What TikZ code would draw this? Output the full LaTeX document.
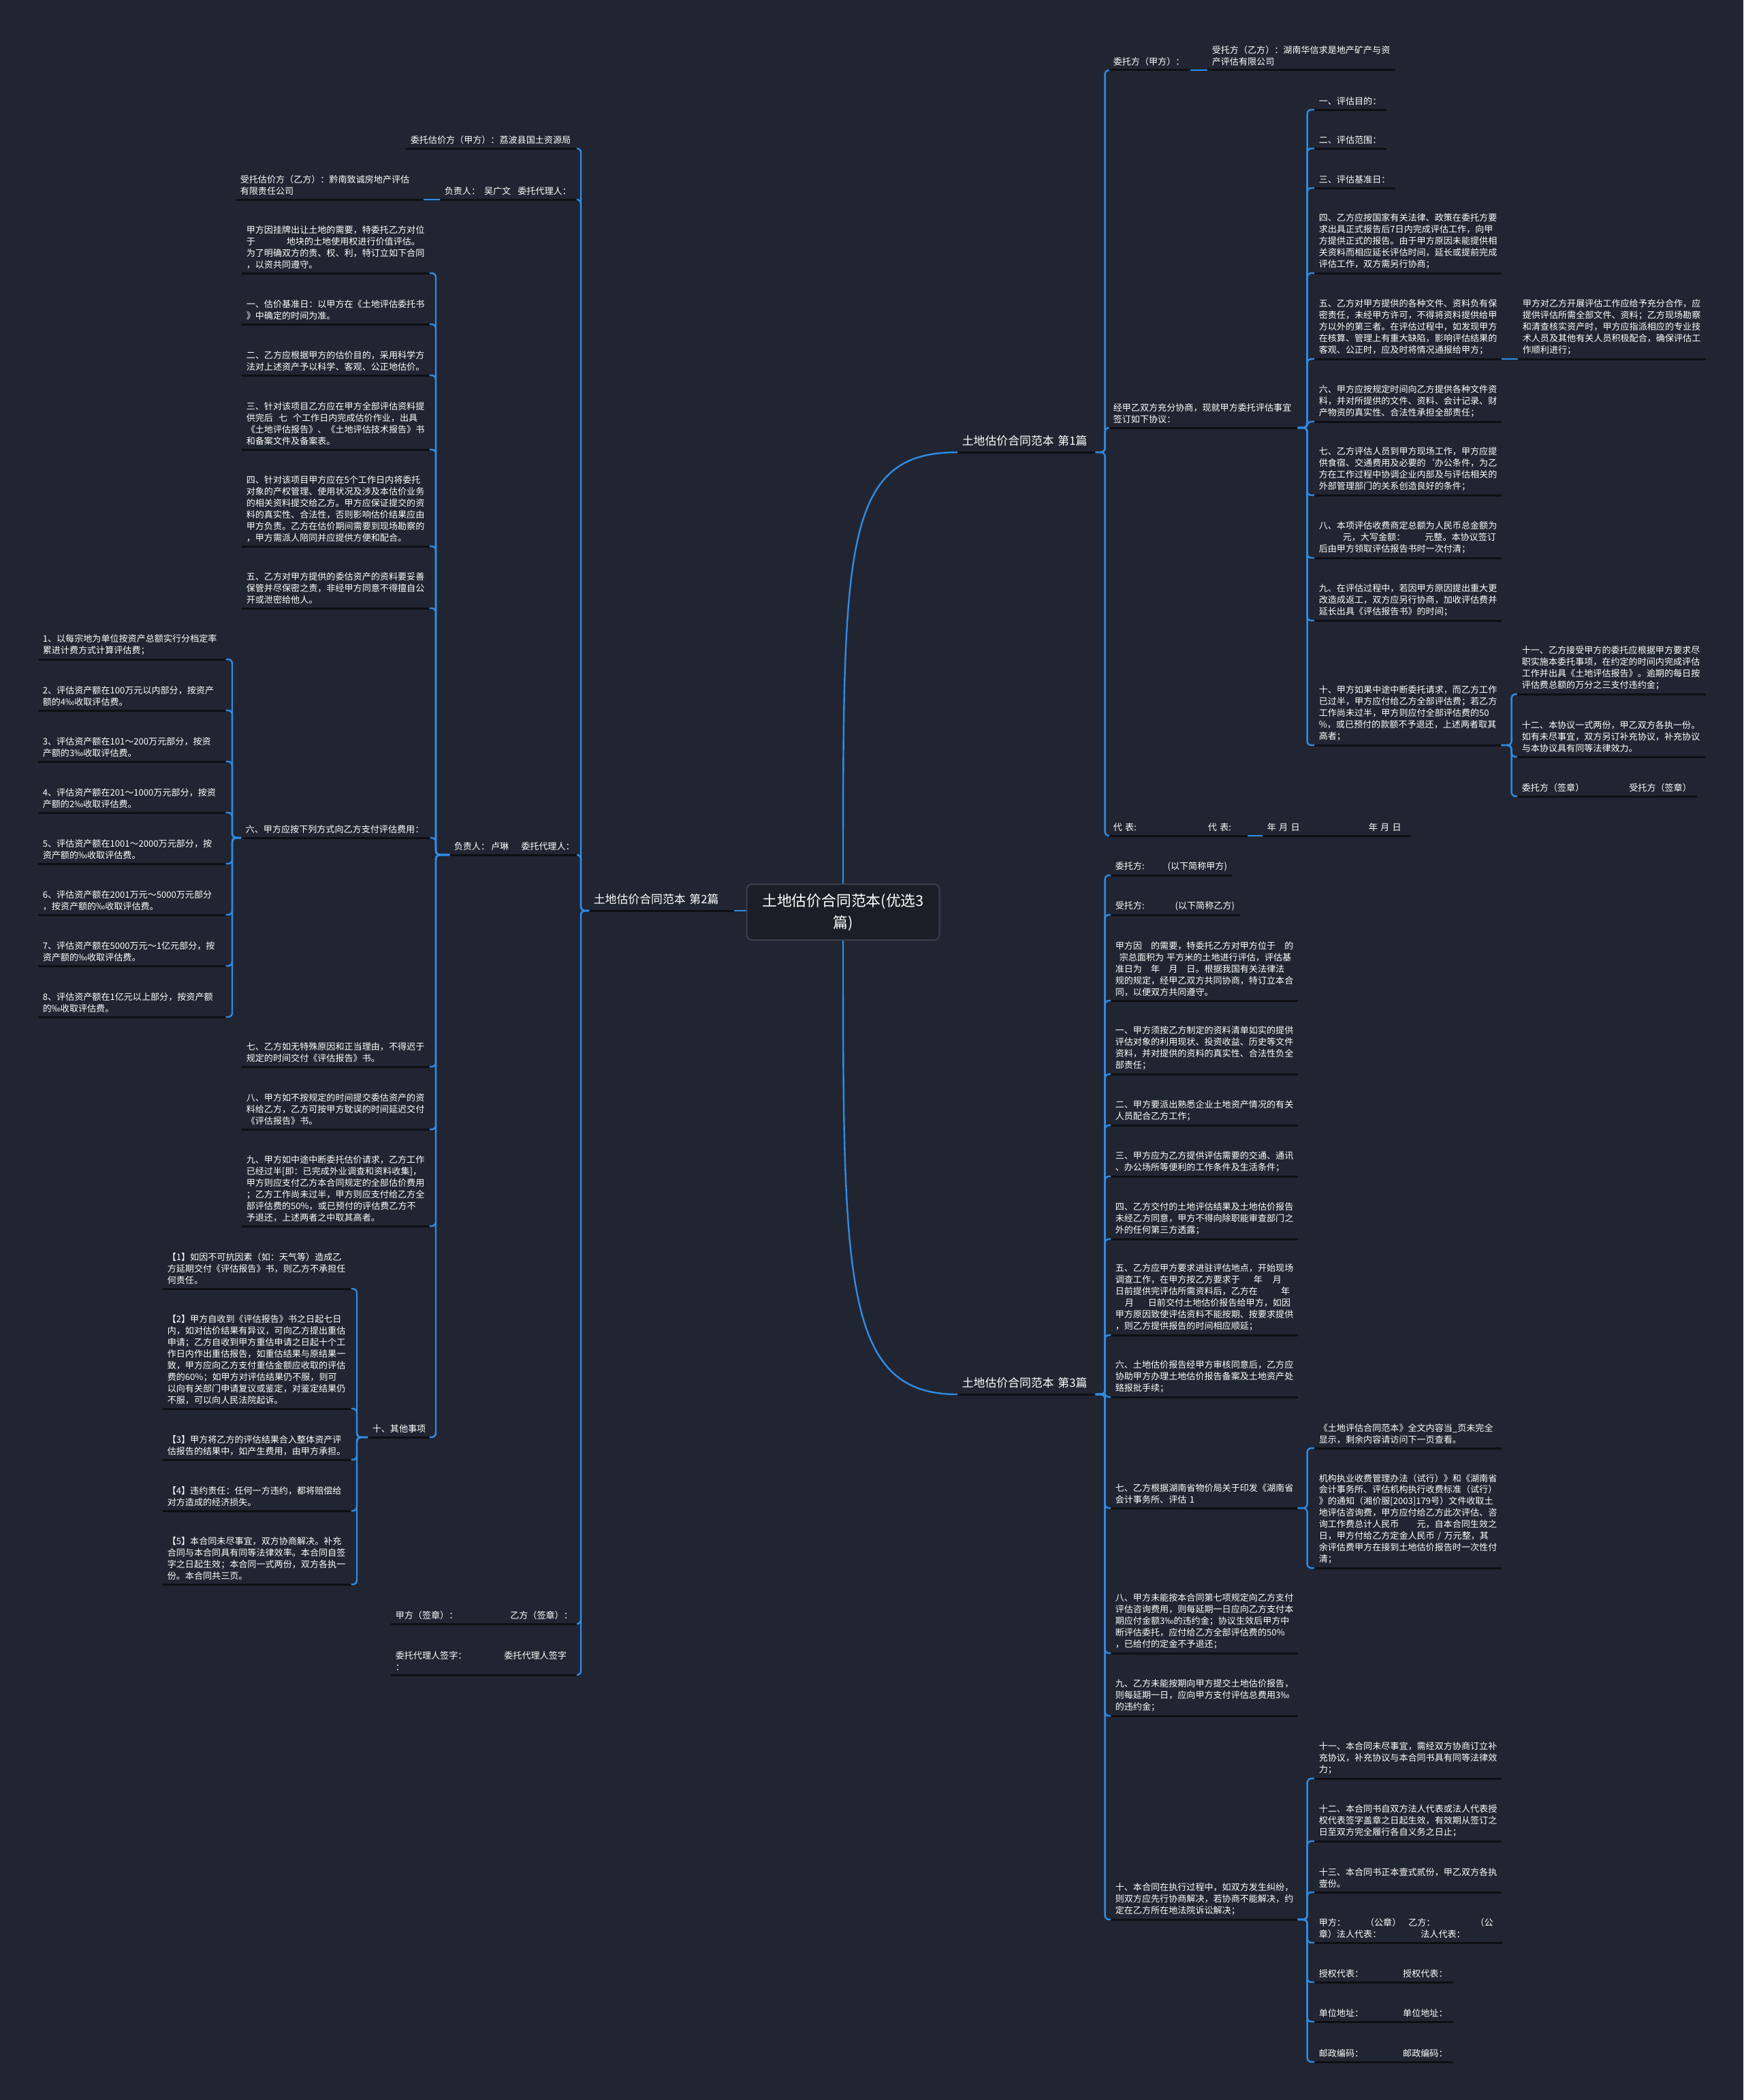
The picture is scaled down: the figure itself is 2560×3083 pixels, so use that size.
\documentclass[tikz,border=0pt]{standalone}
\usepackage{fontspec}
\setmainfont{Noto Sans CJK SC}
\usetikzlibrary{calc}

\newdimen\pxu \pxu=0.025cm
\newcommand{\leafsize}{\fontsize{9.3}{12.05}\selectfont\lineskiplimit=-\maxdimen}
\newcommand{\partsize}{\fontsize{12}{14}\selectfont\lineskiplimit=-\maxdimen}
\newcommand{\rootsize}{\fontsize{15.5}{22.7}\selectfont\lineskiplimit=-\maxdimen}
\newcommand{\gap}[1]{\nobreak\hspace{#1\pxu}\nobreak}
\definecolor{bgc}{HTML}{212531}
\definecolor{linkc}{HTML}{2E8CE6}
\definecolor{ulc}{HTML}{0D0F14}
\definecolor{rootfill}{HTML}{1B1E27}
\definecolor{rootline}{HTML}{3A3F4E}

\begin{document}
\begin{tikzpicture}[
  x=0.025cm, y=-0.025cm,
  uline/.style={draw=ulc,line width=3\pxu},
  link/.style={draw=linkc,line width=2.4\pxu,rounded corners=6\pxu},
  leaf/.style={anchor=south west,align=left,text width=#1\pxu,inner xsep=6.5\pxu,inner ysep=6\pxu,
    text=white,font=\leafsize,
    append after command={\pgfextra{\draw[uline] (\tikzlastnode.south west) -- (\tikzlastnode.south east);}}},
  part/.style={leaf=#1,font=\partsize,inner ysep=9\pxu},
  rootbox/.style={draw=rootline,fill=rootfill,rounded corners=8\pxu,line width=2\pxu,text=white,
    font=\rootsize,align=center,minimum width=283\pxu,minimum height=82\pxu},
]
\fill[bgc] (0,0) rectangle (2560,3083);
% root and the three parts
\node[rootbox] (root) at (1238,1339) {土地估价合同范本(优选3\\篇)};
\node[part=189] (pA) at (1406,664) {土地估价合同范本~第1篇};
\node[part=199] (pB) at (865,1337) {土地估价合同范本~第2篇};
\node[part=189] (pC) at (1406,2047) {土地估价合同范本~第3篇};
\draw[link] (root.north) .. controls (1238,800) and (1238,664) .. (pA.south west);
\draw[link] (root.south) .. controls (1238,1880) and (1238,2047) .. (pC.south west);
\draw[link] (pB.south east) -- (pB.south east -| root.west);

% part 1
\node[leaf=106] (aJia) at (1628,103) {委托方（甲方）：};
\node[leaf=262] (aYi) at (1773,103) {受托方（乙方）：湖南华信求是地产矿产与资\\产评估有限公司};
\node[leaf=264] (aXie) at (1628,628) {经甲乙双方充分协商，现就甲方委托评估事宜\\签订如下协议：};
\node[leaf=190] (aDai) at (1628,1227) {代~表:\gap{105}代~表:};
\node[leaf=204] (aDate) at (1854,1227) {年~月~日\gap{101}年~月~日};
\draw[link] (pA.south east) -- ++(14,0) |- (aJia.south west);
\draw[link] (pA.south east) -- ++(14,0) |- (aXie.south west);
\draw[link] (pA.south east) -- ++(14,0) |- (aDai.south west);
\draw[link] (aJia.south east) -- (aYi.south west);
\draw[link] (aDai.south east) -- (aDate.south west);

\node[leaf=92] (x1) at (1930,161) {一、评估目的：};
\node[leaf=92] (x2) at (1930,218) {二、评估范围：};
\node[leaf=105] (x3) at (1930,276) {三、评估基准日：};
\node[leaf=261] (x4) at (1930,401) {四、乙方应按国家有关法律、政策在委托方要\\求出具正式报告后7日内完成评估工作，向甲\\方提供正式的报告。由于甲方原因未能提供相\\关资料而相应延长评估时间，延长或提前完成\\评估工作，双方需另行协商；};
\node[leaf=261] (x5) at (1930,527) {五、乙方对甲方提供的各种文件、资料负有保\\密责任，未经甲方许可，不得将资料提供给甲\\方以外的第三者。在评估过程中，如发现甲方\\在核算、管理上有重大缺陷，影响评估结果的\\客观、公正时，应及时将情况通报给甲方；};
\node[leaf=262] (x5a) at (2229,527) {甲方对乙方开展评估工作应给予充分合作，应\\提供评估所需全部文件、资料；乙方现场勘察\\和清查核实资产时，甲方应指派相应的专业技\\术人员及其他有关人员积极配合，确保评估工\\作顺利进行；};
\node[leaf=261] (x6) at (1930,619) {六、甲方应按规定时间向乙方提供各种文件资\\料，并对所提供的文件、资料、会计记录、财\\产物资的真实性、合法性承担全部责任；};
\node[leaf=261] (x7) at (1930,727) {七、乙方评估人员到甲方现场工作，甲方应提\\供食宿、交通费用及必要的\symbol{96}办公条件，为乙\\方在工作过程中协调企业内部及与评估相关的\\外部管理部门的关系创造良好的条件；};
\node[leaf=261] (x8) at (1930,819) {八、本项评估收费商定总额为人民币总金额为\\\hspace*{35\pxu}元，大写金额：\gap{29}元整。本协议签订\\后由甲方领取评估报告书时一次付清；};
\node[leaf=261] (x9) at (1930,911) {九、在评估过程中，若因甲方原因提出重大更\\改造成返工，双方应另行协商，加收评估费并\\延长出具《评估报告书》的时间；};
\node[leaf=261] (x10) at (1930,1094) {十、甲方如果中途中断委托请求，而乙方工作\\已过半，甲方应付给乙方全部评估费；若乙方\\工作尚未过半，甲方则应付全部评估费的50\\\%，或已预付的款额不予退还，上述两者取其\\高者；};
\node[leaf=263] (x11) at (2228,1019) {十一、乙方接受甲方的委托应根据甲方要求尽\\职实施本委托事项，在约定的时间内完成评估\\工作并出具《土地评估报告》。逾期的每日按\\评估费总额的万分之三支付违约金；};
\node[leaf=263] (x12) at (2228,1111) {十二、本协议一式两份，甲乙双方各执一份。\\如有未尽事宜，双方另订补充协议，补充协议\\与本协议具有同等法律效力。};
\node[leaf=250] (xSign) at (2228,1169) {委托方（签章）\gap{66}受托方（签章）};
\draw[link] (aXie.south east) -- ++(14,0) |- (x1.south west);
\draw[link] (aXie.south east) -- ++(14,0) |- (x2.south west);
\draw[link] (aXie.south east) -- ++(14,0) |- (x3.south west);
\draw[link] (aXie.south east) -- ++(14,0) |- (x4.south west);
\draw[link] (aXie.south east) -- ++(14,0) |- (x5.south west);
\draw[link] (aXie.south east) -- ++(14,0) |- (x6.south west);
\draw[link] (aXie.south east) -- ++(14,0) |- (x7.south west);
\draw[link] (aXie.south east) -- ++(14,0) |- (x8.south west);
\draw[link] (aXie.south east) -- ++(14,0) |- (x9.south west);
\draw[link] (aXie.south east) -- ++(14,0) |- (x10.south west);
\draw[link] (x5.south east) -- (x5a.south west);
\draw[link] (x10.south east) -- ++(15,0) |- (x11.south west);
\draw[link] (x10.south east) -- ++(15,0) |- (x12.south west);
\draw[link] (x10.south east) -- ++(15,0) |- (xSign.south west);

% part 3
\node[leaf=164] (cJia) at (1631,1285) {委托方:\gap{34}(以下简称甲方)};
\node[leaf=176] (cYi) at (1631,1343) {受托方:\gap{45}(以下简称乙方)};
\node[leaf=261] (c0) at (1631,1469) {甲方因　的需要，特委托乙方对甲方位于　的\\\hspace*{6\pxu}宗总面积为\gap{4}平方米的土地进行评估，评估基\\准日为　年　月　日。根据我国有关法律法\\规的规定，经甲乙双方共同协商，特订立本合\\同，以便双方共同遵守。};
\node[leaf=261] (c1) at (1631,1577) {一、甲方须按乙方制定的资料清单如实的提供\\评估对象的利用现状、投资收益、历史等文件\\资料，并对提供的资料的真实性、合法性负全\\部责任；};
\node[leaf=261] (c2) at (1631,1652) {二、甲方要派出熟悉企业土地资产情况的有关\\人员配合乙方工作；};
\node[leaf=261] (c3) at (1631,1727) {三、甲方应为乙方提供评估需要的交通、通讯\\、办公场所等便利的工作条件及生活条件；};
\node[leaf=261] (c4) at (1631,1819) {四、乙方交付的土地评估结果及土地估价报告\\未经乙方同意，甲方不得向除职能审查部门之\\外的任何第三方透露；};
\node[leaf=261] (c5) at (1631,1960) {五、乙方应甲方要求进驻评估地点，开始现场\\调查工作，在甲方按乙方要求于\gap{20}年\gap{15}月\\日前提供完评估所需资料后，乙方在\gap{34}年\\\hspace*{14\pxu}月\gap{21}日前交付土地估价报告给甲方，如因\\甲方原因致使评估资料不能按期、按要求提供\\，则乙方提供报告的时间相应顺延；};
\node[leaf=261] (c6) at (1631,2051) {六、土地估价报告经甲方审核同意后，乙方应\\协助甲方办理土地估价报告备案及土地资产处\\臵报批手续；};
\node[leaf=261] (c7) at (1631,2214) {七、乙方根据湖南省物价局关于印发《湖南省\\会计事务所、评估~1};
\node[leaf=261] (c8) at (1631,2427) {八、甲方未能按本合同第七项规定向乙方支付\\评估咨询费用，则每延期一日应向乙方支付本\\期应付金额3‰的违约金；协议生效后甲方中\\断评估委托，应付给乙方全部评估费的50\%\\，已给付的定金不予退还；};
\node[leaf=261] (c9) at (1631,2519) {九、乙方未能按期向甲方提交土地估价报告，\\则每延期一日，应向甲方支付评估总费用3‰\\的违约金；};
\node[leaf=261] (c10) at (1631,2818) {十、本合同在执行过程中，如双方发生纠纷，\\则双方应先行协商解决，若协商不能解决，约\\定在乙方所在地法院诉讼解决；};
\node[leaf=261] (c7a) at (1930,2126) {《土地评估合同范本》全文内容当\_页未完全\\显示，剩余内容请访问下一页查看。};
\node[leaf=261] (c7b) at (1930,2302) {机构执业收费管理办法（试行）》和《湖南省\\会计事务所、评估机构执行收费标准（试行）\\》的通知（湘价服[2003]179号）文件收取土\\地评估咨询费，甲方应付给乙方此次评估、咨\\询工作费总计人民币\gap{26}元，自本合同生效之\\日，甲方付给乙方定金人民币~/~万元整，其\\余评估费甲方在接到土地估价报告时一次性付\\清；};
\node[leaf=261] (c11) at (1930,2611) {十一、本合同未尽事宜，需经双方协商订立补\\充协议，补充协议与本合同书具有同等法律效\\力；};
\node[leaf=261] (c12) at (1930,2703) {十二、本合同书自双方法人代表或法人代表授\\权代表签字盖章之日起生效，有效期从签订之\\日至双方完全履行各自义务之日止；};
\node[leaf=261] (c13) at (1930,2778) {十三、本合同书正本壹式贰份，甲乙双方各执\\壹份。};
\node[leaf=262] (cSeal) at (1930,2852) {甲方：\gap{29}（公章）\gap{11}乙方：\gap{59}（公\\章）法人代表：\gap{58}法人代表：};
\node[leaf=190] (cRep) at (1930,2910) {授权代表：\gap{58}授权代表：};
\node[leaf=190] (cAddr) at (1930,2968) {单位地址：\gap{58}单位地址：};
\node[leaf=190] (cPost) at (1930,3027) {邮政编码：\gap{58}邮政编码：};
\draw[link] (pC.south east) -- ++(14,0) |- (cJia.south west);
\draw[link] (pC.south east) -- ++(14,0) |- (cYi.south west);
\draw[link] (pC.south east) -- ++(14,0) |- (c0.south west);
\draw[link] (pC.south east) -- ++(14,0) |- (c1.south west);
\draw[link] (pC.south east) -- ++(14,0) |- (c2.south west);
\draw[link] (pC.south east) -- ++(14,0) |- (c3.south west);
\draw[link] (pC.south east) -- ++(14,0) |- (c4.south west);
\draw[link] (pC.south east) -- ++(14,0) |- (c5.south west);
\draw[link] (pC.south east) -- ++(14,0) |- (c6.south west);
\draw[link] (pC.south east) -- ++(14,0) |- (c7.south west);
\draw[link] (pC.south east) -- ++(14,0) |- (c8.south west);
\draw[link] (pC.south east) -- ++(14,0) |- (c9.south west);
\draw[link] (pC.south east) -- ++(14,0) |- (c10.south west);
\draw[link] (c7.south east) -- ++(14,0) |- (c7a.south west);
\draw[link] (c7.south east) -- ++(14,0) |- (c7b.south west);
\draw[link] (c10.south east) -- ++(14,0) |- (c11.south west);
\draw[link] (c10.south east) -- ++(14,0) |- (c12.south west);
\draw[link] (c10.south east) -- ++(14,0) |- (c13.south west);
\draw[link] (c10.south east) -- ++(14,0) |- (cSeal.south west);
\draw[link] (c10.south east) -- ++(14,0) |- (cRep.south west);
\draw[link] (c10.south east) -- ++(14,0) |- (cAddr.south west);
\draw[link] (c10.south east) -- ++(14,0) |- (cPost.south west);

% part 2
\node[leaf=239] (bJia) at (596,218) {委托估价方（甲方）：荔波县国土资源局};
\node[leaf=189] (bWu) at (646,293) {负责人：\gap{6}吴广文\gap{10}委托代理人：};
\node[leaf=262] (bYi) at (346,293) {受托估价方（乙方）：黔南致诚房地产评估\\有限责任公司};
\node[leaf=175] (bLu) at (660,1255) {负责人：\gap{2}卢琳\gap{18}委托代理人：};
\node[leaf=261] (bSign) at (574,2384) {甲方（签章）：\gap{77}乙方（签章）：};
\node[leaf=261] (bAgent) at (574,2459) {委托代理人签字：\gap{55}委托代理人签字\\：};
\draw[link] (pB.south west) -- ++(-12,0) |- (bJia.south east);
\draw[link] (pB.south west) -- ++(-12,0) |- (bWu.south east);
\draw[link] (pB.south west) -- ++(-12,0) |- (bLu.south east);
\draw[link] (pB.south west) -- ++(-12,0) |- (bSign.south east);
\draw[link] (pB.south west) -- ++(-12,0) |- (bAgent.south east);
\draw[link] (bWu.south west) -- (bYi.south east);

\node[leaf=262] (b0) at (355,401) {甲方因挂牌出让土地的需要，特委托乙方对位\\于\gap{46}地块的土地使用权进行价值评估。\\为了明确双方的责、权、利，特订立如下合同\\，以资共同遵守。};
\node[leaf=262] (b1) at (355,476) {一、估价基准日：以甲方在《土地评估委托书\\》中确定的时间为准。};
\node[leaf=262] (b2) at (355,551) {二、乙方应根据甲方的估价目的，采用科学方\\法对上述资产予以科学、客观、公正地估价。};
\node[leaf=262] (b3) at (355,660) {三、针对该项目乙方应在甲方全部评估资料提\\供完后\gap{8}七\gap{8}个工作日内完成估价作业，出具\\《土地评估报告》、《土地评估技术报告》书\\和备案文件及备案表。};
\node[leaf=262] (b4) at (355,802) {四、针对该项目甲方应在5个工作日内将委托\\对象的产权管理、使用状况及涉及本估价业务\\的相关资料提交给乙方。甲方应保证提交的资\\料的真实性、合法性，否则影响估价结果应由\\甲方负责。乙方在估价期间需要到现场勘察的\\，甲方需派人陪同并应提供方便和配合。};
\node[leaf=262] (b5) at (355,893) {五、乙方对甲方提供的委估资产的资料要妥善\\保管并尽保密之责，非经甲方同意不得擅自公\\开或泄密给他人。};
\node[leaf=264] (b6) at (354,1230) {六、甲方应按下列方式向乙方支付评估费用：};
\node[leaf=262] (b7) at (355,1566) {七、乙方如无特殊原因和正当理由，不得迟于\\规定的时间交付《评估报告》书。};
\node[leaf=262] (b8) at (355,1658) {八、甲方如不按规定的时间提交委估资产的资\\料给乙方，乙方可按甲方耽误的时间延迟交付\\《评估报告》书。};
\node[leaf=262] (b9) at (355,1800) {九、甲方如中途中断委托估价请求，乙方工作\\已经过半[即：已完成外业调查和资料收集]，\\甲方则应支付乙方本合同规定的全部估价费用\\；乙方工作尚未过半，甲方则应支付给乙方全\\部评估费的50\%，或已预付的评估费乙方不\\予退还，上述两者之中取其高者。};
\node[leaf=77] (b10) at (540,2110) {十、其他事项};
\draw[link] (bLu.south west) -- ++(-20,0) |- (b0.south east);
\draw[link] (bLu.south west) -- ++(-20,0) |- (b1.south east);
\draw[link] (bLu.south west) -- ++(-20,0) |- (b2.south east);
\draw[link] (bLu.south west) -- ++(-20,0) |- (b3.south east);
\draw[link] (bLu.south west) -- ++(-20,0) |- (b4.south east);
\draw[link] (bLu.south west) -- ++(-20,0) |- (b5.south east);
\draw[link] (bLu.south west) -- ++(-20,0) |- (b6.south east);
\draw[link] (bLu.south west) -- ++(-20,0) |- (b7.south east);
\draw[link] (bLu.south west) -- ++(-20,0) |- (b8.south east);
\draw[link] (bLu.south west) -- ++(-20,0) |- (b9.south east);
\draw[link] (bLu.south west) -- ++(-20,0) |- (b10.south east);

% fee schedule
\node[leaf=262] (f1) at (56,968) {1、以每宗地为单位按资产总额实行分档定率\\累进计费方式计算评估费；};
\node[leaf=262] (f2) at (56,1043) {2、评估资产额在100万元以内部分，按资产\\额的4‰收取评估费。};
\node[leaf=262] (f3) at (56,1118) {3、评估资产额在101～200万元部分，按资\\产额的3‰收取评估费。};
\node[leaf=262] (f4) at (56,1193) {4、评估资产额在201～1000万元部分，按资\\产额的2‰收取评估费。};
\node[leaf=262] (f5) at (56,1268) {5、评估资产额在1001～2000万元部分，按\\资产额的‰收取评估费。};
\node[leaf=262] (f6) at (56,1343) {6、评估资产额在2001万元～5000万元部分\\，按资产额的‰收取评估费。};
\node[leaf=262] (f7) at (56,1418) {7、评估资产额在5000万元～1亿元部分，按\\资产额的‰收取评估费。};
\node[leaf=262] (f8) at (56,1493) {8、评估资产额在1亿元以上部分，按资产额\\的‰收取评估费。};
\draw[link] (b6.south west) -- ++(-13,0) |- (f1.south east);
\draw[link] (b6.south west) -- ++(-13,0) |- (f2.south east);
\draw[link] (b6.south west) -- ++(-13,0) |- (f3.south east);
\draw[link] (b6.south west) -- ++(-13,0) |- (f4.south east);
\draw[link] (b6.south west) -- ++(-13,0) |- (f5.south east);
\draw[link] (b6.south west) -- ++(-13,0) |- (f6.south east);
\draw[link] (b6.south west) -- ++(-13,0) |- (f7.south east);
\draw[link] (b6.south west) -- ++(-13,0) |- (f8.south east);

% other matters
\node[leaf=263] (o1) at (239,1892) {【1】如因不可抗因素（如：天气等）造成乙\\方延期交付《评估报告》书，则乙方不承担任\\何责任。};
\node[leaf=263] (o2) at (239,2068) {【2】甲方自收到《评估报告》书之日起七日\\内，如对估价结果有异议，可向乙方提出重估\\申请；乙方自收到甲方重估申请之日起十个工\\作日内作出重估报告，如重估结果与原结果一\\致，甲方应向乙方支付重估金额应收取的评估\\费的60\%；如甲方对评估结果仍不服，则可\\以向有关部门申请复议或鉴定，对鉴定结果仍\\不服，可以向人民法院起诉。};
\node[leaf=263] (o3) at (239,2143) {【3】甲方将乙方的评估结果合入整体资产评\\估报告的结果中，如产生费用，由甲方承担。};
\node[leaf=263] (o4) at (239,2218) {【4】违约责任：任何一方违约，都将赔偿给\\对方造成的经济损失。};
\node[leaf=263] (o5) at (239,2326) {【5】本合同未尽事宜，双方协商解决。补充\\合同与本合同具有同等法律效率。本合同自签\\字之日起生效；本合同一式两份，双方各执一\\份。本合同共三页。};
\draw[link] (b10.south west) -- ++(-16,0) |- (o1.south east);
\draw[link] (b10.south west) -- ++(-16,0) |- (o2.south east);
\draw[link] (b10.south west) -- ++(-16,0) |- (o3.south east);
\draw[link] (b10.south west) -- ++(-16,0) |- (o4.south east);
\draw[link] (b10.south west) -- ++(-16,0) |- (o5.south east);
\end{tikzpicture}
\end{document}
